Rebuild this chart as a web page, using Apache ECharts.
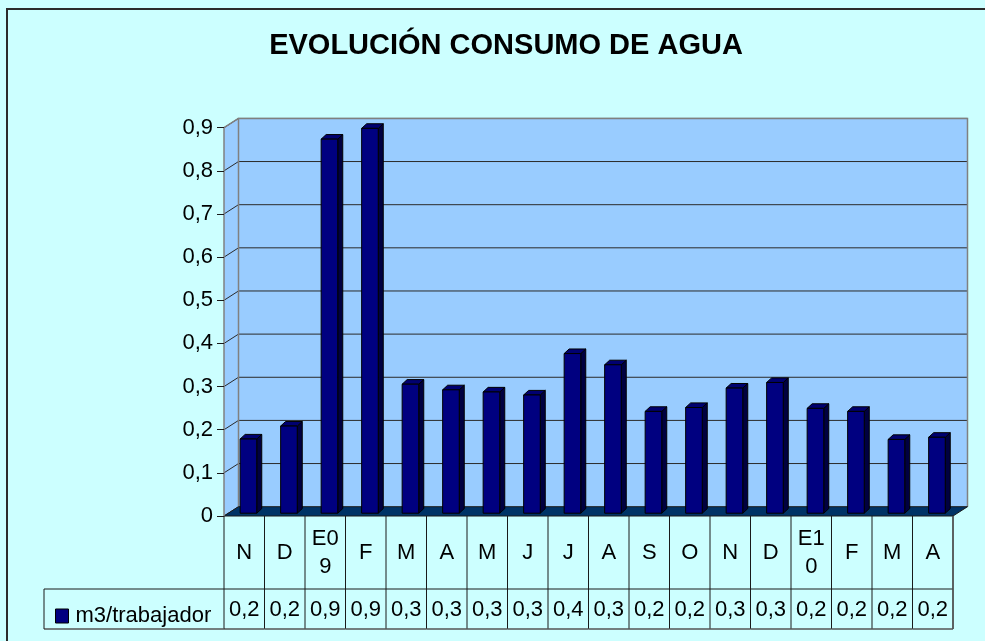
<!DOCTYPE html>
<html><head><meta charset="utf-8">
<script src="https://cdn.jsdelivr.net/npm/echarts@6/dist/echarts.min.js"></script>
<style>html,body{margin:0;padding:0;background:#CCFFFF}#c{width:985px;height:641px}</style>
</head><body><div id="c"></div>
<script>
const chartTitle = 'EVOLUCIÓN CONSUMO DE AGUA';
const seriesName = 'm3/trabajador';
const categories = ['N','D','E09','F','M','A','M','J','J','A','S','O','N','D','E10','F','M','A'];
const values = [0.172,0.202,0.867,0.892,0.299,0.286,0.281,0.274,0.370,0.344,0.236,0.245,0.290,0.303,0.243,0.236,0.171,0.176];
const yTicks = [0,0.1,0.2,0.3,0.4,0.5,0.6,0.7,0.8,0.9];

const FONT = '"Liberation Sans", Arial, sans-serif';
const DX = 14.5, DY = -9.3;       // depth of the 3D walls
const fmt = v => (Math.round(v * 10) / 10).toString().replace('.', ',');

function renderWalls(params, api) {
  const cs = params.coordSys;
  const L = cs.x, R = cs.x + cs.width, T = cs.y, B = cs.y + cs.height;
  const ch = [];
  ch.push({type:'polygon', shape:{points:[[L,B],[L+DX,B+DY],[L+DX,T+DY],[L,T]]}, style:{fill:'#99CCFF'}});
  ch.push({type:'rect', shape:{x:L+DX, y:T+DY, width:R-L, height:B-T}, style:{fill:'#99CCFF'}});
  yTicks.forEach(t => {
    const y = api.coord([0, t])[1];
    if (t > 0) ch.push({type:'line', shape:{x1:L+DX, y1:y+DY, x2:R+DX, y2:y+DY}, style:{stroke:'#2a2a2a', lineWidth:1}});
    ch.push({type:'line', shape:{x1:L, y1:y, x2:L+DX, y2:y+DY}, style:{stroke:'#2a2a2a', lineWidth:1}});
  });
  ch.push({type:'polyline', shape:{points:[[L+DX,B+DY],[L+DX,T+DY],[R+DX,T+DY],[R+DX,B+DY]]}, style:{stroke:'#808080', lineWidth:1.5, fill:null}});
  ch.push({type:'line', shape:{x1:L, y1:T, x2:L+DX, y2:T+DY}, style:{stroke:'#808080', lineWidth:1.5}});
  ch.push({type:'polygon', shape:{points:[[L,B],[R,B],[R+DX,B+DY],[L+DX,B+DY]]}, style:{fill:'#003366', stroke:'#1a1a1a', lineWidth:1}});
  return {type:'group', children:ch};
}

function renderBar(params, api) {
  const i = api.value(0), v = api.value(1);
  const top = api.coord([i, v]), base = api.coord([i, 0]);
  const bw = api.size([1, 0])[0];
  const w = bw * 0.41;
  const ox = DX * 0.29, oy = DY * 0.3;
  const x0 = top[0] + ox - w / 2, x1 = x0 + w;
  const yT = top[1] + oy, yB = base[1] + oy;
  const ddx = 5, ddy = -4.6;
  return {type:'group', children:[
    {type:'polygon', shape:{points:[[x1,yB],[x1+ddx,yB+ddy],[x1+ddx,yT+ddy],[x1,yT]]}, style:{fill:'#000040', stroke:'#000', lineWidth:1}},
    {type:'polygon', shape:{points:[[x0,yT],[x1,yT],[x1+ddx,yT+ddy],[x0+ddx,yT+ddy]]}, style:{fill:'#000070', stroke:'#000', lineWidth:1}},
    {type:'rect', shape:{x:x0, y:yT, width:w, height:yB-yT}, style:{fill:api.visual('color'), stroke:'#000', lineWidth:1}}
  ]};
}

function renderTable(params, api) {
  const cs = params.coordSys;
  const i = api.value(0);
  const c = api.coord([i, 0])[0];
  const bw = api.size([1, 0])[0];
  const l = c - bw / 2, r = c + bw / 2;
  const y0 = cs.y + cs.height, y1 = y0 + 73, y2 = y1 + 40;
  const ls = {stroke:'#1a1a1a', lineWidth:1};
  const ch = [
    {type:'line', shape:{x1:r, y1:y0, x2:r, y2:y2}, style:ls},
    {type:'line', shape:{x1:l, y1:y1, x2:r, y2:y1}, style:ls},
    {type:'line', shape:{x1:l, y1:y2, x2:r, y2:y2}, style:{stroke:'#555', lineWidth:1.5}},
    {type:'text', style:{text:categories[i], x:c, y:(y0+y1)/2, align:'center', verticalAlign:'middle',
      width:bw-6, overflow:'break', lineHeight:28, font:'22px ' + FONT, fill:'#000'}},
    {type:'text', style:{text:fmt(values[i]), x:c, y:(y1+y2)/2+1, align:'center', verticalAlign:'middle',
      font:'22px ' + FONT, fill:'#000'}}
  ];
  if (i === 0) {
    ch.push({type:'line', shape:{x1:l, y1:y0, x2:l, y2:y2}, style:ls});
    ch.push({type:'line', shape:{x1:44, y1:y1, x2:l, y2:y1}, style:ls});
    ch.push({type:'line', shape:{x1:44, y1:y2, x2:l, y2:y2}, style:{stroke:'#555', lineWidth:1.5}});
    ch.push({type:'line', shape:{x1:44, y1:y1, x2:44, y2:y2}, style:ls});
  }
  if (i === categories.length - 1) {
    ch.push({type:'line', shape:{x1:r, y1:y0, x2:r, y2:y2}, style:{stroke:'#555', lineWidth:1.5}});
  }
  return {type:'group', children:ch};
}

const chart = echarts.init(document.getElementById('c'), null, {renderer:'canvas'});
chart.setOption({
  backgroundColor:'#CCFFFF',
  animation:false,
  title:{text:chartTitle, left:506, textAlign:'center', top:31, padding:0,
    textStyle:{fontFamily:FONT, fontSize:29, fontWeight:'bold', color:'#000'}},
  legend:{data:[seriesName], left:50, top:600, icon:'rect', itemWidth:13, itemHeight:14, itemGap:5,
    itemStyle:{borderColor:'#000', borderWidth:1},
    textStyle:{fontFamily:FONT, fontSize:22, color:'#000', padding:[0,0,0,2]}},
  grid:{left:224, right:32, top:127.7, bottom:125, containLabel:false},
  xAxis:{type:'category', data:categories, show:false},
  yAxis:{type:'value', min:0, max:0.9, interval:0.1,
    axisLine:{show:true, lineStyle:{color:'#808080', width:1.5}},
    axisTick:{show:true, length:7, lineStyle:{color:'#1a1a1a'}},
    splitLine:{show:false},
    axisLabel:{margin:11, formatter:v => fmt(v), fontFamily:FONT, fontSize:22, color:'#000'}},
  graphic:[{type:'rect', shape:{x:7, y:9, width:1000, height:700}, style:{fill:null, stroke:'#2b2b2b', lineWidth:2}, z:100}],
  series:[
    {type:'custom', name:'walls', renderItem:renderWalls, data:[[0,0]], clip:false, z:0, silent:true},
    {type:'custom', name:'table', renderItem:renderTable, data:categories.map((c,i)=>[i,0]), clip:false, z:1, silent:true},
    {type:'custom', name:seriesName, renderItem:renderBar, encode:{x:0,y:1},
      data:values.map((v,i)=>[i,v]), itemStyle:{color:'#000080'}, clip:false, z:3}
  ]
});
</script></body></html>
